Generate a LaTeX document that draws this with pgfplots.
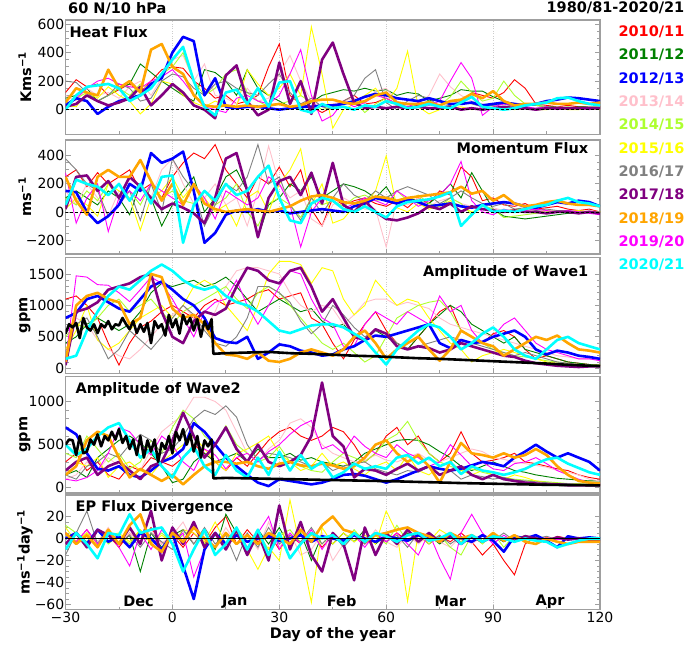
\documentclass[border=0pt]{standalone}
\usepackage{fontspec}
\setmainfont{DejaVu Sans}
\usepackage{pgfplots}
\pgfplotsset{compat=1.18}
\definecolor{cR}{RGB}{255,0,0}
\definecolor{cG}{RGB}{0,128,0}
\definecolor{cB}{RGB}{0,0,255}
\definecolor{cP}{RGB}{255,192,203}
\definecolor{cL}{RGB}{173,255,47}
\definecolor{cY}{RGB}{255,255,0}
\definecolor{cA}{RGB}{128,128,128}
\definecolor{cU}{RGB}{128,0,128}
\definecolor{cO}{RGB}{255,165,0}
\definecolor{cM}{RGB}{255,0,255}
\definecolor{cC}{RGB}{0,255,255}
\newcommand\tfont{\fontsize{14}{16}\selectfont}
\newcommand\bfont{\fontsize{14.5}{17}\selectfont\bfseries}
\pgfplotsset{
  table/header=false, table/row sep=\\, table/x expr={3*\coordindex-30}, table/y index=0,
  panel/.style={scale only axis, width=534.5pt, xmin=-30, xmax=120,
    axis line style={draw=gray!75, line width=1.2pt},
    tick style={draw=gray!75, line width=0.8pt},
    major tick length=5pt, minor tick length=3pt,
    tick align=inside, xtick pos=left, ytick pos=both,
    xtick={-30,0,30,60,90,120}, minor xtick={-15,15,45,75,105},
    xmajorgrids, major grid style={gray!40, dotted, line width=0.6pt},
    tick label style={font=\tfont},
    yticklabel style={inner sep=1pt},
    xticklabel style={inner sep=2pt},
    scaled y ticks=false,
  },
  thn/.style={line width=0.9pt},
  thk/.style={line width=2.6pt, line join=round},
}
\begin{document}
\begin{tikzpicture}
\useasboundingbox (0pt,0pt) rectangle (685pt,645pt);
% ---------------- Panel 1: Heat Flux
\begin{axis}[panel, at={(65.5pt,510.5pt)}, anchor=south west, height=114.5pt,
  ymin=-174, ymax=628, ytick={0,200,400,600}, yticklabels={0,200,400,600}, minor y tick num=3, xticklabels={}]
\addplot[thn,cR] table{120\\210\\160\\180\\100\\140\\180\\120\\200\\280\\300\\290\\200\\150\\80\\100\\40\\60\\100\\300\\460\\100\\40\\20\\-20\\20\\60\\100\\40\\50\\80\\40\\20\\30\\60\\30\\60\\50\\120\\100\\80\\120\\210\\150\\40\\30\\20\\30\\20\\20\\20\\};
\addplot[thn,cG] table{80\\100\\150\\60\\100\\150\\180\\320\\260\\200\\150\\100\\60\\280\\260\\200\\100\\280\\150\\100\\60\\20\\0\\50\\100\\120\\140\\130\\150\\130\\140\\100\\120\\110\\60\\80\\100\\140\\130\\130\\90\\60\\40\\40\\30\\20\\20\\10\\20\\20\\20\\};
\addplot[thn,cP] table{100\\60\\150\\100\\120\\80\\160\\200\\100\\220\\350\\380\\200\\320\\100\\80\\40\\150\\60\\80\\250\\380\\200\\60\\30\\40\\60\\80\\40\\130\\150\\60\\30\\40\\100\\250\\160\\100\\60\\40\\30\\20\\30\\20\\10\\10\\20\\10\\10\\20\\20\\};
\addplot[thn,cL] table{30\\80\\120\\60\\100\\150\\100\\180\\150\\250\\300\\400\\200\\100\\150\\250\\280\\120\\60\\20\\40\\60\\100\\50\\0\\20\\40\\60\\-20\\40\\80\\30\\20\\40\\60\\30\\90\\200\\120\\60\\80\\200\\100\\40\\30\\20\\10\\20\\10\\10\\10\\};
\addplot[thn,cY] table{30\\20\\120\\80\\160\\100\\60\\-30\\40\\200\\180\\100\\50\\20\\60\\30\\20\\280\\180\\100\\150\\250\\100\\580\\250\\-130\\0\\40\\100\\150\\50\\150\\410\\20\\-30\\0\\10\\20\\0\\10\\20\\10\\0\\10\\0\\0\\10\\0\\0\\10\\0\\};
\addplot[thn,cA] table{200\\190\\120\\60\\100\\180\\150\\60\\80\\200\\250\\230\\150\\100\\180\\200\\150\\120\\100\\180\\250\\120\\40\\80\\20\\0\\60\\100\\220\\280\\50\\0\\60\\100\\80\\20\\30\\60\\40\\20\\30\\40\\20\\10\\10\\20\\10\\10\\10\\10\\10\\};
\addplot[thn,cM] table{30\\80\\150\\200\\220\\180\\160\\150\\200\\230\\280\\200\\100\\20\\0\\-20\\80\\100\\60\\40\\100\\250\\420\\100\\-80\\-40\\60\\20\\50\\100\\80\\40\\20\\50\\30\\60\\200\\330\\220\\-40\\20\\40\\30\\20\\10\\20\\0\\10\\10\\0\\10\\};
\addplot[thk,cB] table{30\\80\\60\\-30\\20\\60\\80\\100\\180\\220\\400\\510\\480\\100\\220\\20\\10\\20\\20\\10\\0\\10\\20\\20\\30\\30\\40\\60\\90\\110\\100\\80\\70\\60\\80\\60\\40\\40\\50\\30\\40\\50\\40\\30\\40\\60\\70\\85\\80\\70\\60\\};
\addplot[thk,cU] table{20\\40\\100\\60\\30\\50\\80\\160\\30\\100\\180\\120\\30\\0\\-60\\240\\310\\60\\-40\\0\\330\\40\\200\\-30\\350\\470\\250\\50\\10\\20\\10\\20\\10\\20\\10\\10\\20\\0\\10\\0\\10\\20\\10\\10\\0\\10\\10\\10\\10\\10\\10\\};
\addplot[thk,cO] table{50\\150\\120\\100\\280\\150\\200\\120\\420\\460\\300\\250\\100\\30\\20\\30\\20\\30\\20\\30\\40\\20\\30\\60\\70\\70\\50\\40\\60\\100\\120\\50\\40\\40\\50\\30\\60\\70\\110\\80\\130\\60\\30\\40\\40\\50\\40\\40\\50\\40\\50\\};
\addplot[thk,cC] table{0\\100\\160\\170\\180\\150\\60\\100\\150\\250\\350\\440\\200\\20\\-40\\120\\140\\40\\150\\20\\190\\200\\0\\-20\\40\\10\\20\\0\\30\\20\\60\\40\\10\\20\\40\\20\\10\\50\\90\\20\\10\\0\\10\\30\\40\\50\\80\\85\\60\\40\\30\\};
\addplot[black, line width=0.7pt, dash pattern=on 3pt off 2pt] coordinates {(-30,0) (120,0)};
\end{axis}
% ---------------- Panel 2: Momentum Flux
\begin{axis}[panel, at={(65.5pt,391pt)}, anchor=south west, height=114pt,
  ymin=-300, ymax=513, ytick={-200,0,200,400}, yticklabels={−200,0,200,400}, minor y tick num=3, xticklabels={}]
\addplot[thn,cR] table{250\\300\\180\\280\\200\\250\\300\\150\\200\\100\\250\\350\\420\\380\\480\\300\\200\\100\\250\\200\\320\\180\\300\\20\\-100\\100\\50\\80\\100\\60\\40\\80\\30\\100\\60\\150\\120\\320\\250\\80\\100\\50\\40\\60\\20\\30\\40\\20\\10\\20\\0\\};
\addplot[thn,cG] table{100\\150\\100\\50\\150\\100\\-20\\200\\100\\-100\\50\\150\\250\\0\\100\\250\\300\\150\\-180\\50\\100\\200\\150\\250\\100\\150\\200\\180\\150\\100\\180\\60\\100\\80\\60\\120\\200\\100\\280\\150\\20\\-30\\-40\\-50\\-40\\-30\\-20\\-10\\-10\\0\\0\\};
\addplot[thn,cP] table{150\\50\\200\\100\\-30\\150\\80\\200\\100\\300\\380\\200\\60\\100\\200\\50\\100\\-100\\150\\470\\200\\100\\150\\-50\\-100\\50\\100\\60\\20\\20\\-250\\80\\50\\100\\40\\80\\100\\60\\40\\20\\30\\10\\20\\0\\10\\0\\10\\0\\0\\10\\0\\};
\addplot[thn,cL] table{100\\50\\150\\80\\200\\100\\150\\50\\200\\100\\150\\80\\60\\150\\50\\100\\200\\0\\-100\\60\\100\\50\\-40\\100\\50\\80\\40\\100\\120\\80\\100\\150\\80\\120\\60\\40\\100\\60\\-20\\50\\20\\-40\\-30\\-20\\-10\\0\\10\\0\\-10\\0\\0\\};
\addplot[thn,cY] table{20\\100\\50\\-30\\200\\150\\100\\-130\\100\\150\\250\\100\\200\\100\\0\\50\\-100\\100\\150\\0\\200\\300\\450\\50\\200\\-80\\-50\\40\\50\\150\\400\\30\\0\\60\\20\\40\\80\\40\\0\\20\\10\\0\\20\\10\\0\\10\\0\\0\\10\\0\\0\\};
\addplot[thn,cA] table{380\\300\\200\\150\\-30\\50\\150\\-60\\200\\0\\380\\250\\150\\-100\\50\\200\\150\\250\\480\\200\\250\\50\\-60\\100\\-10\\100\\200\\120\\80\\150\\100\\150\\180\\150\\120\\60\\100\\150\\100\\60\\40\\60\\20\\30\\10\\20\\10\\10\\0\\0\\0\\};
\addplot[thn,cM] table{280\\-80\\100\\200\\-140\\100\\150\\80\\200\\150\\100\\50\\200\\100\\-50\\150\\100\\50\\100\\250\\200\\50\\-250\\0\\100\\80\\20\\60\\100\\80\\50\\150\\100\\40\\80\\120\\200\\360\\80\\0\\-20\\20\\0\\10\\20\\10\\0\\10\\0\\-10\\-20\\};
\addplot[thk,cB] table{150\\140\\0\\-80\\-30\\50\\200\\150\\420\\350\\380\\430\\150\\-220\\-150\\-20\\10\\0\\20\\0\\10\\-10\\0\\10\\20\\10\\0\\40\\60\\100\\80\\60\\90\\70\\40\\50\\60\\40\\30\\50\\60\\70\\60\\40\\30\\50\\70\\60\\80\\70\\40\\};
\addplot[thk,cU] table{20\\250\\260\\150\\220\\100\\250\\180\\100\\20\\60\\30\\-10\\-80\\100\\380\\420\\150\\-180\\100\\220\\250\\120\\280\\60\\350\\50\\0\\80\\0\\-50\\-60\\-40\\-10\\40\\20\\60\\0\\40\\20\\10\\0\\10\\0\\0\\-10\\0\\0\\-10\\0\\-10\\};
\addplot[thk,cO] table{250\\80\\-20\\250\\300\\250\\250\\370\\220\\80\\200\\50\\200\\60\\20\\0\\10\\20\\10\\0\\20\\40\\80\\110\\120\\100\\70\\60\\80\\110\\100\\80\\100\\110\\120\\130\\140\\180\\130\\150\\80\\120\\60\\40\\50\\70\\80\\60\\50\\50\\40\\};
\addplot[thk,cC] table{50\\230\\200\\180\\120\\200\\80\\200\\60\\250\\260\\-220\\50\\150\\80\\200\\120\\150\\250\\330\\100\\-60\\-80\\60\\100\\80\\20\\0\\40\\0\\-40\\40\\70\\80\\90\\110\\140\\-100\\-20\\50\\0\\10\\0\\20\\40\\50\\80\\100\\70\\60\\40\\};
\addplot[black, line width=0.7pt, dash pattern=on 3pt off 2pt] coordinates {(-30,0) (120,0)};
\end{axis}
% ---------------- Panel 3: Amplitude of Wave1
\begin{axis}[panel, at={(65.5pt,271.7pt)}, anchor=south west, height=116pt,
  ymin=-80, ymax=1765, ytick={0,500,1000,1500}, yticklabels={0,500,1000,1500}, minor y tick num=4, xticklabels={}]
\addplot[thn,cR] table{1100\\1150\\1000\\800\\400\\50\\400\\650\\750\\900\\1000\\900\\800\\1000\\1100\\1000\\1050\\1100\\1200\\1250\\1100\\1150\\1200\\800\\700\\400\\150\\450\\700\\900\\600\\400\\300\\500\\700\\900\\1000\\600\\500\\400\\550\\600\\500\\300\\150\\200\\150\\100\\80\\60\\50\\};
\addplot[thn,cG] table{400\\500\\700\\800\\700\\600\\700\\900\\1200\\1350\\1300\\1350\\1400\\1300\\1350\\1450\\1300\\1100\\900\\1000\\1100\\1000\\900\\950\\750\\650\\700\\500\\450\\600\\500\\400\\300\\500\\700\\850\\1000\\900\\700\\600\\500\\400\\500\\300\\250\\200\\150\\100\\80\\60\\50\\};
\addplot[thn,cP] table{600\\800\\700\\450\\300\\200\\150\\300\\500\\700\\850\\1000\\800\\600\\900\\1300\\1550\\1600\\1600\\1550\\1500\\1200\\1000\\900\\1000\\950\\700\\850\\1050\\1100\\1100\\1000\\1050\\1000\\950\\800\\700\\650\\600\\550\\500\\450\\400\\350\\300\\250\\200\\180\\150\\150\\150\\};
\addplot[thn,cL] table{500\\700\\650\\800\\1000\\1100\\900\\1000\\1100\\900\\700\\900\\1000\\1100\\1200\\1300\\1100\\950\\1200\\1300\\1200\\1000\\800\\600\\400\\300\\400\\250\\100\\200\\500\\800\\900\\1000\\1050\\1080\\900\\600\\500\\400\\300\\250\\200\\180\\150\\120\\100\\80\\60\\50\\50\\};
\addplot[thn,cY] table{300\\600\\1000\\450\\300\\400\\600\\800\\900\\1000\\800\\1000\\1300\\1400\\1300\\1000\\800\\600\\1000\\1500\\1700\\1700\\1650\\1350\\1600\\1550\\1100\\850\\1000\\1400\\1200\\1000\\1100\\1050\\800\\600\\400\\300\\100\\200\\250\\300\\250\\200\\150\\100\\80\\60\\50\\40\\30\\};
\addplot[thn,cA] table{600\\700\\800\\500\\150\\300\\600\\450\\300\\500\\800\\1000\\850\\600\\400\\350\\500\\800\\1300\\1300\\1200\\1050\\750\\550\\700\\1000\\850\\650\\500\\600\\550\\400\\320\\350\\400\\450\\500\\450\\400\\350\\300\\250\\200\\250\\200\\150\\100\\80\\60\\50\\40\\};
\addplot[thn,cM] table{100\\1470\\1450\\1330\\1320\\1200\\1060\\1250\\1450\\1350\\1100\\800\\500\\900\\1050\\1100\\1400\\1000\\700\\1000\\1300\\1550\\1500\\1100\\800\\700\\350\\350\\700\\900\\800\\700\\900\\800\\700\\1150\\900\\1000\\600\\400\\500\\700\\800\\600\\400\\300\\250\\200\\150\\150\\120\\};
\addplot[thk,cB] table{800\\880\\1100\\1150\\1050\\950\\900\\1100\\1300\\1380\\1250\\1100\\1000\\800\\480\\420\\400\\500\\150\\250\\380\\350\\280\\250\\200\\220\\300\\350\\450\\520\\500\\550\\600\\650\\700\\400\\320\\450\\400\\420\\500\\550\\600\\500\\300\\220\\280\\250\\200\\180\\150\\};
\addplot[thk,cU] table{50\\900\\950\\1050\\1250\\1300\\1350\\1450\\1500\\900\\500\\400\\750\\900\\850\\950\\1300\\1600\\1550\\1400\\1350\\1550\\1600\\1300\\900\\1100\\800\\500\\450\\620\\550\\350\\300\\350\\320\\250\\300\\400\\350\\300\\250\\200\\180\\120\\80\\60\\40\\30\\20\\30\\30\\};
\addplot[thk,cO] table{100\\1000\\1150\\1200\\1100\\1050\\700\\800\\1500\\1450\\950\\800\\850\\700\\400\\220\\200\\150\\250\\120\\100\\150\\250\\300\\250\\200\\300\\500\\600\\400\\150\\300\\400\\500\\300\\120\\300\\600\\500\\400\\350\\200\\300\\400\\500\\450\\520\\400\\300\\280\\250\\};
\addplot[thk,cC] table{150\\200\\600\\900\\1150\\1300\\1250\\1400\\1550\\1650\\1550\\1400\\1300\\1250\\1300\\1150\\1050\\1000\\900\\750\\600\\560\\620\\680\\700\\700\\650\\550\\450\\250\\60\\300\\450\\600\\700\\650\\500\\300\\400\\550\\650\\500\\300\\200\\150\\300\\450\\500\\400\\350\\300\\};
\addplot[thk,black] coordinates {(-30,550)(-29,700)(-28,650)(-27,720)(-26,480)(-25,800)(-24,650)(-23,600)(-22,700)(-21,560)(-20,700)(-19,650)(-18,750)(-17,620)(-16,700)(-15,680)(-14,800)(-13,700)(-12,620)(-11,750)(-10,560)(-9,700)(-8,580)(-7,720)(-6,400)(-5,750)(-4,640)(-3,700)(-2,520)(-1,850)(0,650)(1,780)(2,550)(3,850)(4,700)(5,800)(6,600)(7,780)(8,500)(9,750)(10,620)(11,780)(11.5,230)(15,240)(21,250)(27,260)(33,240)(39,230)(45,215)(51,200)(57,190)(63,175)(69,160)(75,150)(81,135)(87,120)(93,105)(99,90)(105,75)(111,55)(117,40)(120,35)};
\end{axis}
% ---------------- Panel 4: Amplitude of Wave2
\begin{axis}[panel, at={(65.5pt,152pt)}, anchor=south west, height=116.5pt,
  ymin=-60, ymax=1290, ytick={0,500,1000}, yticklabels={0,500,1000}, minor y tick num=4, xticklabels={}]
\addplot[thn,cR] table{300\\400\\200\\300\\150\\100\\250\\200\\350\\300\\250\\350\\500\\400\\300\\200\\350\\250\\400\\550\\650\\700\\600\\550\\600\\700\\650\\500\\300\\400\\600\\700\\500\\600\\400\\300\\400\\650\\400\\300\\320\\350\\400\\300\\280\\250\\220\\200\\150\\120\\100\\};
\addplot[thn,cG] table{150\\200\\120\\350\\450\\550\\600\\520\\400\\250\\60\\100\\300\\400\\300\\350\\400\\300\\450\\350\\350\\400\\320\\350\\300\\280\\250\\300\\400\\450\\500\\550\\560\\550\\500\\420\\350\\250\\200\\250\\300\\250\\200\\180\\150\\130\\110\\100\\90\\80\\80\\};
\addplot[thn,cP] table{100\\150\\300\\200\\350\\250\\300\\200\\450\\650\\750\\850\\1050\\1050\\1000\\900\\650\\400\\300\\450\\550\\750\\800\\700\\500\\400\\350\\300\\320\\380\\320\\300\\350\\400\\320\\300\\350\\400\\450\\420\\350\\330\\300\\280\\260\\240\\200\\180\\150\\100\\80\\};
\addplot[thn,cL] table{400\\350\\600\\450\\300\\400\\220\\300\\550\\400\\700\\900\\800\\600\\500\\720\\500\\400\\300\\350\\480\\300\\250\\200\\180\\300\\400\\350\\300\\400\\550\\620\\770\\550\\400\\300\\250\\200\\220\\180\\150\\120\\100\\90\\80\\70\\60\\50\\50\\40\\40\\};
\addplot[thn,cY] table{200\\300\\250\\350\\120\\250\\300\\200\\150\\300\\400\\500\\600\\450\\300\\200\\400\\450\\520\\600\\400\\300\\200\\250\\400\\250\\300\\220\\150\\250\\300\\200\\380\\200\\150\\250\\300\\200\\150\\200\\150\\100\\150\\120\\80\\60\\50\\40\\40\\30\\30\\};
\addplot[thn,cA] table{150\\100\\250\\300\\400\\350\\500\\620\\550\\400\\450\\600\\800\\900\\850\\950\\820\\500\\320\\400\\380\\350\\300\\250\\300\\200\\250\\280\\300\\220\\180\\150\\200\\180\\250\\220\\200\\100\\150\\130\\100\\120\\90\\80\\70\\60\\50\\50\\40\\40\\40\\};
\addplot[thn,cM] table{100\\80\\120\\200\\400\\700\\650\\500\\380\\600\\500\\300\\200\\450\\380\\220\\350\\400\\300\\420\\500\\620\\720\\780\\450\\500\\400\\600\\480\\400\\350\\500\\400\\350\\250\\300\\500\\380\\250\\300\\220\\200\\280\\300\\350\\280\\200\\150\\100\\60\\50\\};
\addplot[thk,cB] table{700\\620\\400\\220\\200\\250\\150\\120\\200\\300\\350\\450\\750\\650\\500\\350\\250\\150\\60\\20\\100\\80\\60\\40\\60\\100\\150\\160\\140\\100\\60\\100\\150\\200\\250\\220\\200\\220\\260\\300\\280\\250\\350\\420\\500\\420\\350\\400\\350\\300\\200\\};
\addplot[thk,cU] table{200\\300\\350\\150\\250\\300\\200\\100\\250\\300\\550\\870\\600\\350\\500\\700\\450\\300\\500\\300\\250\\300\\380\\600\\1220\\600\\480\\120\\220\\200\\150\\220\\280\\200\\250\\150\\200\\250\\150\\100\\150\\100\\80\\60\\50\\40\\40\\30\\30\\30\\30\\};
\addplot[thk,cO] table{150\\250\\550\\650\\600\\350\\120\\220\\150\\80\\150\\40\\150\\250\\300\\300\\280\\300\\250\\220\\280\\300\\260\\250\\280\\260\\220\\250\\350\\500\\550\\400\\300\\380\\250\\60\\300\\520\\400\\380\\350\\400\\350\\380\\450\\380\\250\\150\\80\\60\\50\\};
\addplot[thk,cC] table{500\\380\\450\\600\\700\\750\\550\\350\\450\\250\\120\\350\\480\\250\\150\\380\\200\\120\\350\\150\\420\\200\\380\\220\\300\\120\\180\\280\\220\\250\\220\\350\\380\\280\\350\\250\\300\\160\\250\\200\\180\\150\\180\\220\\280\\330\\350\\280\\230\\180\\150\\};
\addplot[thk,black] coordinates {(-30,500)(-29,560)(-28,550)(-27,380)(-26,600)(-25,400)(-24,420)(-23,560)(-22,500)(-21,620)(-20,480)(-19,600)(-18,550)(-17,650)(-16,560)(-15,680)(-14,520)(-13,600)(-12,450)(-11,560)(-10,380)(-9,600)(-8,350)(-7,550)(-6,420)(-5,560)(-4,300)(-3,520)(-2,450)(-1,600)(0,400)(1,650)(2,550)(3,680)(4,500)(5,620)(6,420)(7,600)(8,350)(9,550)(10,480)(11,560)(11.5,110)(15,115)(21,110)(27,105)(33,100)(39,95)(45,90)(51,85)(57,80)(63,75)(69,68)(75,62)(81,55)(87,50)(93,45)(99,40)(105,35)(111,32)(117,30)(120,28)};
\end{axis}
% ---------------- Panel 5: EP Flux Divergence
\begin{axis}[panel, at={(65.5pt,35.5pt)}, anchor=south west, height=114.5pt,
  ymin=-64.5, ymax=39.5, ytick={-60,-40,-20,0,20}, yticklabels={−60,−40,−20,0,20}, minor y tick num=3,
  xticklabels={−30,0,30,60,90,120}]
\addplot[thn,cR] table{5\\-3\\8\\-5\\3\\-8\\5\\-3\\10\\-5\\3\\-8\\5\\-5\\10\\20\\-5\\8\\-3\\5\\-10\\3\\-5\\5\\-8\\3\\-3\\5\\-5\\3\\-3\\5\\-2\\3\\-5\\2\\-3\\5\\-3\\-15\\-5\\-20\\-33\\-5\\2\\-3\\2\\0\\1\\0\\1\\};
\addplot[thn,cG] table{3\\-5\\5\\-3\\8\\-5\\3\\-30\\5\\-8\\3\\8\\-5\\5\\-10\\22\\5\\-15\\8\\-5\\10\\-8\\5\\-20\\3\\-5\\5\\-3\\8\\-5\\3\\-3\\5\\-2\\3\\-5\\2\\-3\\3\\-2\\2\\-3\\2\\-1\\1\\0\\-1\\1\\0\\0\\0\\};
\addplot[thn,cP] table{3\\-5\\5\\-3\\10\\-5\\5\\-3\\8\\-5\\3\\15\\-5\\5\\-8\\10\\-5\\5\\-10\\15\\-8\\5\\-15\\-10\\5\\-20\\-5\\3\\-5\\8\\-3\\-8\\3\\-5\\3\\-3\\-8\\2\\-5\\2\\-3\\1\\-2\\1\\0\\-1\\0\\1\\0\\0\\0\\};
\addplot[thn,cL] table{12\\5\\-3\\8\\-5\\3\\-5\\8\\-3\\5\\-5\\3\\10\\-5\\3\\-5\\10\\-3\\5\\-10\\3\\8\\-5\\3\\-5\\5\\-3\\8\\-3\\3\\-5\\12\\-3\\3\\-5\\3\\-8\\-15\\3\\-5\\5\\-8\\3\\-2\\2\\-1\\1\\0\\0\\0\\0\\};
\addplot[thn,cY] table{10\\-3\\5\\-5\\3\\5\\-3\\8\\-5\\3\\-5\\8\\5\\-3\\15\\-5\\5\\-10\\-28\\-8\\-20\\35\\-10\\-58\\10\\-5\\5\\-3\\3\\-5\\25\\5\\-57\\5\\-3\\8\\2\\-3\\3\\-2\\2\\-1\\2\\0\\1\\0\\0\\1\\0\\0\\0\\};
\addplot[thn,cA] table{-15\\5\\25\\-5\\8\\-5\\3\\-8\\5\\-3\\-10\\8\\-5\\10\\-5\\3\\-20\\5\\-8\\10\\-5\\3\\-3\\10\\-5\\5\\-8\\3\\-5\\5\\-3\\3\\-8\\5\\-3\\3\\-5\\2\\-3\\3\\-2\\5\\-2\\3\\0\\2\\-1\\1\\0\\1\\0\\};
\addplot[thn,cM] table{5\\-3\\8\\-5\\5\\-8\\-25\\5\\-10\\8\\-5\\5\\-35\\-10\\5\\-5\\10\\-8\\5\\20\\-10\\5\\-5\\8\\-10\\5\\-5\\3\\-8\\5\\-3\\5\\-5\\-15\\5\\-18\\-37\\5\\22\\5\\-5\\3\\-3\\2\\-2\\1\\-1\\0\\0\\0\\0\\};
\addplot[thk,cB] table{0\\5\\-5\\8\\-3\\2\\-8\\5\\0\\-10\\5\\-25\\-55\\-10\\5\\-5\\3\\-3\\0\\2\\-2\\0\\3\\-3\\2\\0\\-2\\3\\0\\-3\\2\\0\\-2\\3\\0\\-2\\2\\0\\-3\\3\\-2\\-12\\2\\0\\3\\-2\\-8\\2\\0\\1\\0\\};
\addplot[thk,cU] table{-5\\5\\-8\\8\\3\\-5\\10\\-5\\25\\-20\\10\\-5\\15\\-8\\5\\-10\\8\\-15\\5\\-20\\30\\-10\\15\\-15\\-30\\5\\-5\\-38\\10\\-15\\5\\-5\\8\\-3\\5\\-3\\3\\-5\\2\\-3\\2\\0\\-2\\2\\0\\-2\\1\\-1\\0\\-1\\-2\\};
\addplot[thk,cO] table{5\\-5\\3\\-8\\8\\-5\\12\\22\\-5\\-12\\5\\-3\\10\\0\\-8\\5\\-5\\3\\-5\\5\\0\\-5\\8\\-3\\12\\20\\8\\5\\-3\\3\\5\\8\\10\\5\\2\\-3\\5\\0\\3\\-3\\5\\-2\\3\\-3\\-5\\0\\-3\\-5\\-3\\-3\\-3\\};
\addplot[thk,cC] table{-10\\5\\-5\\-18\\5\\3\\22\\5\\8\\10\\-5\\-30\\-10\\8\\-15\\-5\\10\\-10\\8\\-15\\5\\-18\\-5\\5\\0\\3\\-5\\5\\-3\\5\\2\\-3\\3\\5\\-2\\0\\5\\-5\\3\\-3\\2\\0\\-3\\0\\-2\\-3\\-8\\-5\\-2\\0\\0\\};
\addplot[black, line width=1.3pt] coordinates {(-30,0) (120,0)};
\addplot[black, line width=0.7pt, dash pattern=on 3pt off 2pt] coordinates {(-30,0) (120,0)};
\node[font=\bfont] at (axis cs:-9.5,-57) {Dec};
\node[font=\bfont] at (axis cs:17.5,-57) {Jan};
\node[font=\bfont] at (axis cs:47.5,-57) {Feb};
\node[font=\bfont] at (axis cs:78,-57) {Mar};
\node[font=\bfont] at (axis cs:106,-57) {Apr};
\end{axis}
% ---------------- texts
\node[font=\bfont, anchor=west, inner sep=0pt] at (68pt,636.7pt) {60 N/10 hPa};
\node[font=\bfont, anchor=east, inner sep=0pt] at (684.5pt,636.7pt) {1980/81-2020/21};
\node[font=\bfont, anchor=west, inner sep=0pt] at (69.3pt,613.3pt) {Heat Flux};
\node[font=\bfont, anchor=east, inner sep=0pt] at (588.5pt,496.7pt) {Momentum Flux};
\node[font=\bfont, anchor=east, inner sep=0pt] at (588.5pt,372pt) {Amplitude of Wave1};
\node[font=\bfont, anchor=west, inner sep=0pt] at (75.5pt,255pt) {Amplitude of Wave2};
\node[font=\bfont, anchor=west, inner sep=0pt] at (75.5pt,137.7pt) {EP Flux Divergence};
\node[font=\bfont, inner sep=0pt] at (332.75pt,10pt) {Day of the year};
\node[font=\bfont, rotate=90, inner sep=0pt] at (25pt,567.75pt) {Kms\textsuperscript{−1}};
\node[font=\bfont, rotate=90, inner sep=0pt] at (25pt,448pt) {ms\textsuperscript{−1}};
\node[font=\bfont, rotate=90, inner sep=0pt] at (25pt,329.7pt) {gpm};
\node[font=\bfont, rotate=90, inner sep=0pt] at (25pt,210.25pt) {gpm};
\node[font=\bfont, rotate=90, inner sep=0pt] at (25pt,92.75pt) {ms\textsuperscript{−1}day\textsuperscript{−1}};
\node[font=\bfont, anchor=west, inner sep=0pt, text=cR] at (618.3pt,613.3pt) {2010/11};
\node[font=\bfont, anchor=west, inner sep=0pt, text=cG] at (618.3pt,590pt) {2011/12};
\node[font=\bfont, anchor=west, inner sep=0pt, text=cB] at (618.3pt,566.7pt) {2012/13};
\node[font=\bfont, anchor=west, inner sep=0pt, text=cP] at (618.3pt,543.3pt) {2013/14};
\node[font=\bfont, anchor=west, inner sep=0pt, text=cL] at (618.3pt,520pt) {2014/15};
\node[font=\bfont, anchor=west, inner sep=0pt, text=cY] at (618.3pt,496.7pt) {2015/16};
\node[font=\bfont, anchor=west, inner sep=0pt, text=cA] at (618.3pt,473.3pt) {2016/17};
\node[font=\bfont, anchor=west, inner sep=0pt, text=cU] at (618.3pt,450pt) {2017/18};
\node[font=\bfont, anchor=west, inner sep=0pt, text=cO] at (618.3pt,426.7pt) {2018/19};
\node[font=\bfont, anchor=west, inner sep=0pt, text=cM] at (618.3pt,403.3pt) {2019/20};
\node[font=\bfont, anchor=west, inner sep=0pt, text=cC] at (618.3pt,380pt) {2020/21};
\end{tikzpicture}
\end{document}
